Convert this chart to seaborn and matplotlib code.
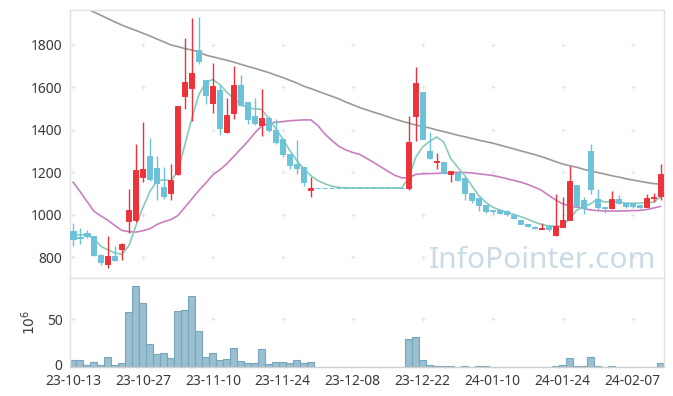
import numpy as np
import pandas as pd
import matplotlib
matplotlib.use("Agg")
import matplotlib.pyplot as plt
import matplotlib.transforms as mtrans
import seaborn as sns

# ---------------- data ----------------
dates = ["2023-10-13",
         "2023-10-16", "2023-10-17", "2023-10-18", "2023-10-19", "2023-10-20",
         "2023-10-23", "2023-10-24", "2023-10-25", "2023-10-26", "2023-10-27",
         "2023-10-30", "2023-10-31", "2023-11-01", "2023-11-02", "2023-11-03",
         "2023-11-06", "2023-11-07", "2023-11-08", "2023-11-09", "2023-11-10",
         "2023-11-13", "2023-11-14", "2023-11-15", "2023-11-16", "2023-11-17",
         "2023-11-20", "2023-11-21", "2023-11-22", "2023-11-23", "2023-11-24",
         "2023-11-27", "2023-11-28", "2023-11-29", "2023-11-30", "2023-12-01",
         "2023-12-04", "2023-12-05", "2023-12-06", "2023-12-07", "2023-12-08",
         "2023-12-11", "2023-12-12", "2023-12-13", "2023-12-14", "2023-12-15",
         "2023-12-18", "2023-12-19", "2023-12-20", "2023-12-21", "2023-12-22",
         "2023-12-26", "2023-12-27", "2023-12-28",
         "2024-01-02", "2024-01-03", "2024-01-04", "2024-01-05",
         "2024-01-08", "2024-01-09", "2024-01-10", "2024-01-11", "2024-01-12",
         "2024-01-15", "2024-01-16", "2024-01-17", "2024-01-18", "2024-01-19",
         "2024-01-22", "2024-01-23", "2024-01-24", "2024-01-25", "2024-01-26",
         "2024-01-29", "2024-01-30", "2024-01-31", "2024-02-01", "2024-02-02",
         "2024-02-05", "2024-02-06", "2024-02-07", "2024-02-08",
         "2024-02-13", "2024-02-14", "2024-02-15"]

opens = [922, 896, 916, 899, 812, 770, 808, 839, 971, 978,
         1177, 1276, 1218, 1133, 1102, 1191, 1557, 1595, 1775, 1634,
         1525, 1587, 1388, 1478, 1608, 1528, 1462, 1421, 1453, 1399,
         1354, 1288, 1237, 1223, 1116, 1127, 1127, 1127, 1127, 1127,
         1127, 1127, 1127, 1127, 1127, 1127, 1127, 1127, 1127, 1464,
         1575, 1302, 1249, 1246, 1191, 1197, 1171, 1105, 1080, 1047,
         1024, 1024, 1018, 1000, 977, 958, 944, 936, 949, 905,
         941, 977, 1138, 1071, 1298, 1075, 1039, 1032, 1074, 1058,
         1058, 1046, 1036, 1077, 1088]
highs = [961, 938, 930, 902, 817, 902, 853, 869, 1122, 1334,
         1434, 1363, 1277, 1227, 1240, 1512, 1831, 1925, 1931, 1634,
         1714, 1608, 1550, 1698, 1659, 1532, 1548, 1592, 1462, 1451,
         1354, 1288, 1352, 1223, 1177, 1127, 1127, 1127, 1127, 1127,
         1127, 1127, 1127, 1127, 1127, 1127, 1127, 1127, 1464, 1694,
         1575, 1387, 1290, 1246, 1204, 1200, 1171, 1105, 1083, 1047,
         1024, 1024, 1024, 1000, 977, 958, 949, 961, 949, 1099,
         1083, 1229, 1138, 1083, 1334, 1122, 1039, 1110, 1094, 1058,
         1058, 1046, 1099, 1102, 1240]
lows = [852, 864, 892, 808, 766, 750, 784, 789, 916, 966,
        1154, 1161, 1071, 1074, 1071, 1188, 1496, 1443, 1709, 1521,
        1478, 1376, 1384, 1451, 1509, 1428, 1423, 1371, 1388, 1331,
        1271, 1217, 1193, 1135, 1083, 1127, 1127, 1127, 1127, 1127,
        1127, 1127, 1127, 1127, 1127, 1127, 1127, 1127, 1119, 1346,
        1356, 1263, 1216, 1193, 1154, 1160, 1068, 1057, 1018, 1008,
        1005, 1005, 994, 982, 955, 942, 933, 933, 924, 902,
        941, 974, 1044, 1002, 1099, 1024, 1011, 1029, 1049, 1032,
        1032, 1033, 1036, 1060, 1071]
closes = [886, 893, 900, 811, 778, 808, 789, 864, 1025, 1212,
          1216, 1168, 1149, 1091, 1165, 1512, 1622, 1664, 1722, 1562,
          1603, 1407, 1471, 1611, 1517, 1449, 1431, 1453, 1399, 1341,
          1285, 1234, 1219, 1154, 1127, 1127, 1127, 1127, 1127, 1127,
          1127, 1127, 1127, 1127, 1127, 1127, 1127, 1127, 1340, 1617,
          1356, 1266, 1255, 1196, 1204, 1162, 1102, 1068, 1046, 1016,
          1018, 1010, 1005, 985, 958, 947, 938, 939, 933, 949,
          977, 1157, 1044, 1032, 1120, 1036, 1032, 1075, 1055, 1043,
          1043, 1036, 1080, 1086, 1190]

ma5 = [906, 906, 906, 888, 852, 836, 821, 815, 856, 950,
       1035, 1110, 1158, 1165, 1160, 1205, 1330, 1455, 1565, 1622,
       1636, 1612, 1576, 1545, 1521, 1501, 1498, 1495, 1451, 1404,
       1357, 1302, 1255, 1216, 1185, 1161, 1146, 1135, 1129, 1127,
       1127, 1127, 1127, 1127, 1127, 1127, 1127, 1127, 1175, 1270,
       1320, 1345, 1366, 1342, 1265, 1224, 1185, 1138, 1091, 1060,
       1036, 1024, 1013, 1003, 992, 980, 966, 955, 949, 946,
       950, 982, 1021, 1039, 1052, 1075, 1060, 1064, 1060, 1055,
       1055, 1055, 1057, 1060, 1083]
ma20 = [1154, 1110, 1063, 1017, 995, 974, 950, 927, 921, 919,
        926, 935, 955, 968, 978, 997, 1036, 1075, 1115, 1150,
        1188, 1212, 1240, 1275, 1310, 1345, 1385, 1418, 1430, 1435,
        1438, 1442, 1444, 1446, 1446, 1420, 1380, 1350, 1322, 1305,
        1293, 1284, 1265, 1246, 1226, 1205, 1186, 1174, 1174, 1190,
        1193, 1194, 1195, 1196, 1198, 1200, 1199, 1197, 1193, 1189,
        1185, 1178, 1170, 1162, 1154, 1143, 1130, 1115, 1092, 1070,
        1052, 1042, 1036, 1030, 1023, 1020, 1018, 1018, 1018, 1019,
        1020, 1021, 1025, 1032, 1040]
ma120 = [2000, 1985, 1968, 1952, 1937, 1921, 1906, 1891, 1878, 1866,
         1853, 1840, 1826, 1812, 1798, 1790, 1781, 1774, 1765, 1750,
         1742, 1734, 1726, 1717, 1707, 1697, 1688, 1678, 1668, 1656,
         1645, 1632, 1619, 1604, 1593, 1581, 1569, 1557, 1545, 1530,
         1517, 1504, 1493, 1482, 1472, 1461, 1450, 1440, 1431, 1422,
         1415, 1408, 1399, 1391, 1383, 1374, 1367, 1359, 1351, 1344,
         1337, 1328, 1319, 1310, 1301, 1292, 1283, 1273, 1262, 1250,
         1239, 1231, 1224, 1214, 1206, 1199, 1192, 1184, 1178, 1170,
         1164, 1158, 1152, 1147, 1144]

volume = [7.6, 7.6, 2.4, 5.5, 2.4, 10.4, 2.4, 4.2, 57, 85,
          67, 24, 13.5, 14.6, 9.4, 58.7, 59.7, 74.3, 37.5, 10.4,
          15, 7.3, 8.3, 19.8, 6.6, 4.2, 4.2, 18.8, 3.1, 5.5,
          5.5, 4.2, 7.6, 4.5, 5.5, 0, 0, 0, 0, 0,
          0, 0, 0, 0, 0, 0, 0, 0, 29.5, 31.6,
          7.6, 2.4, 1.0, 1.0, 1.0, 0.1, 0.8, 0.1, 0.8, 0.8,
          0.1, 0.1, 0.1, 0.1, 0.1, 0.1, 0.1, 0.1, 0.1, 0.8,
          2.0, 9.7, 1.0, 1.0, 10.8, 1.0, 0.1, 0.8, 0.1, 0.1,
          0.1, 0.1, 0.1, 0.1, 4.5]

price_ticks = [800, 1000, 1200, 1400, 1600, 1800]
vol_ticks = [0, 50]
tick_every = 10

# ---------------- styling ----------------
sns.set_style("white")
plt.rcParams['font.family'] = ['Noto Sans', 'DejaVu Sans']

RED = "#ee3239"
BLUE = "#6cc2d9"
TEAL = "#86cbbb"
PINK = "#c97fbf"
GRAY = "#9a9a9a"
SPINE = "#e2e2e2"
TXT = "#3a3a3a"

df = pd.DataFrame({"date": pd.to_datetime(dates), "open": opens, "high": highs,
                   "low": lows, "close": closes, "ma5": ma5, "ma20": ma20,
                   "ma120": ma120, "volume": volume})
df["idx"] = np.arange(len(df))
df["color"] = np.where(df["close"] > df["open"], RED, BLUE)

fig = plt.figure(figsize=(6.73, 3.96), dpi=100)
W, H = 673, 396
ax = fig.add_axes([69.5 / W, 1 - 277.5 / H, 594.5 / W, 267.5 / H])
axv = fig.add_axes([69.5 / W, 1 - 367 / H, 594.5 / W, 89.5 / H])

xlim = (-0.5, len(df) - 0.5)
ticks_x = df["idx"].values[::tick_every]

# faint '+' grid marks
gx, gy = np.meshgrid(ticks_x, price_ticks)
ax.scatter(gx.ravel(), gy.ravel(), marker="+", s=12, color="#e4e4e4",
           linewidths=0.8, zorder=0)

# watermark
ax.text(0.9865, 0.037, "InfoPointer.com", transform=ax.transAxes, ha="right",
        va="baseline", fontsize=21.5, color="#cadbe6", zorder=0)

# moving averages
sns.lineplot(data=df, x="idx", y="ma120", ax=ax, color=GRAY, lw=1.2, zorder=2)
sns.lineplot(data=df, x="idx", y="ma20", ax=ax, color=PINK, lw=1.2, zorder=2)
sns.lineplot(data=df, x="idx", y="ma5", ax=ax, color=TEAL, lw=1.2, zorder=2)

# candles
ax.vlines(df["idx"], df["low"], df["high"], colors=df["color"], lw=1.0, zorder=3)
ax.bar(df["idx"], df["close"] - df["open"], bottom=df["open"], width=0.72,
       color=df["color"], edgecolor=df["color"], linewidth=0.7, zorder=4)

ax.set_xlim(*xlim)
ax.set_ylim(706, 1962)
ax.set_yticks(price_ticks)
ax.set_yticklabels([str(t) for t in price_ticks], fontsize=10, color=TXT)
ax.set_xticks(ticks_x)
ax.set_xticklabels([])
ax.tick_params(length=0, pad=5)
ax.set_xlabel("")
ax.set_ylabel("")
for s in ax.spines.values():
    s.set_color(SPINE)
    s.set_linewidth(1)

# volume
gvx, gvy = np.meshgrid(ticks_x, [50])
axv.scatter(gvx.ravel(), gvy.ravel(), marker="+", s=12, color="#e4e4e4",
            linewidths=0.8, zorder=0)
sns.barplot(data=df, x="idx", y="volume", ax=axv, native_scale=True, width=1.0,
            color="#99bfd0", edgecolor="#77a5bb", linewidth=0.8, saturation=1,
            zorder=2)
axv.set_xlim(*xlim)
axv.set_ylim(0, max(volume) * 1.1)
axv.set_yticks(vol_ticks)
axv.set_yticklabels([str(t) for t in vol_ticks], fontsize=10, color=TXT)
axv.set_xticks(ticks_x)
axv.set_xticklabels(df["date"].dt.strftime("%y-%m-%d").values[::tick_every],
                    fontsize=10, color=TXT)
axv.tick_params(axis="y", length=0, pad=5)
axv.tick_params(axis="x", length=0, pad=5)
axv.set_xlabel("")
axv.set_ylabel("")
for s in axv.spines.values():
    s.set_color(SPINE)
    s.set_linewidth(1)
axv.spines["bottom"].set_color("#cfcfcf")

# nudge the "0" volume label up slightly so it does not touch the date label
zero_lbl = axv.get_yticklabels()[0]
zero_lbl.set_transform(zero_lbl.get_transform() +
                       mtrans.ScaledTranslation(0, 3 / 100, fig.dpi_scale_trans))

fig.text(30 / W, 1 - 322 / H, "$10^6$", rotation=90, ha="center", va="center",
         fontsize=10, color=TXT)

fig.savefig("out.png", dpi=100, facecolor="white")
